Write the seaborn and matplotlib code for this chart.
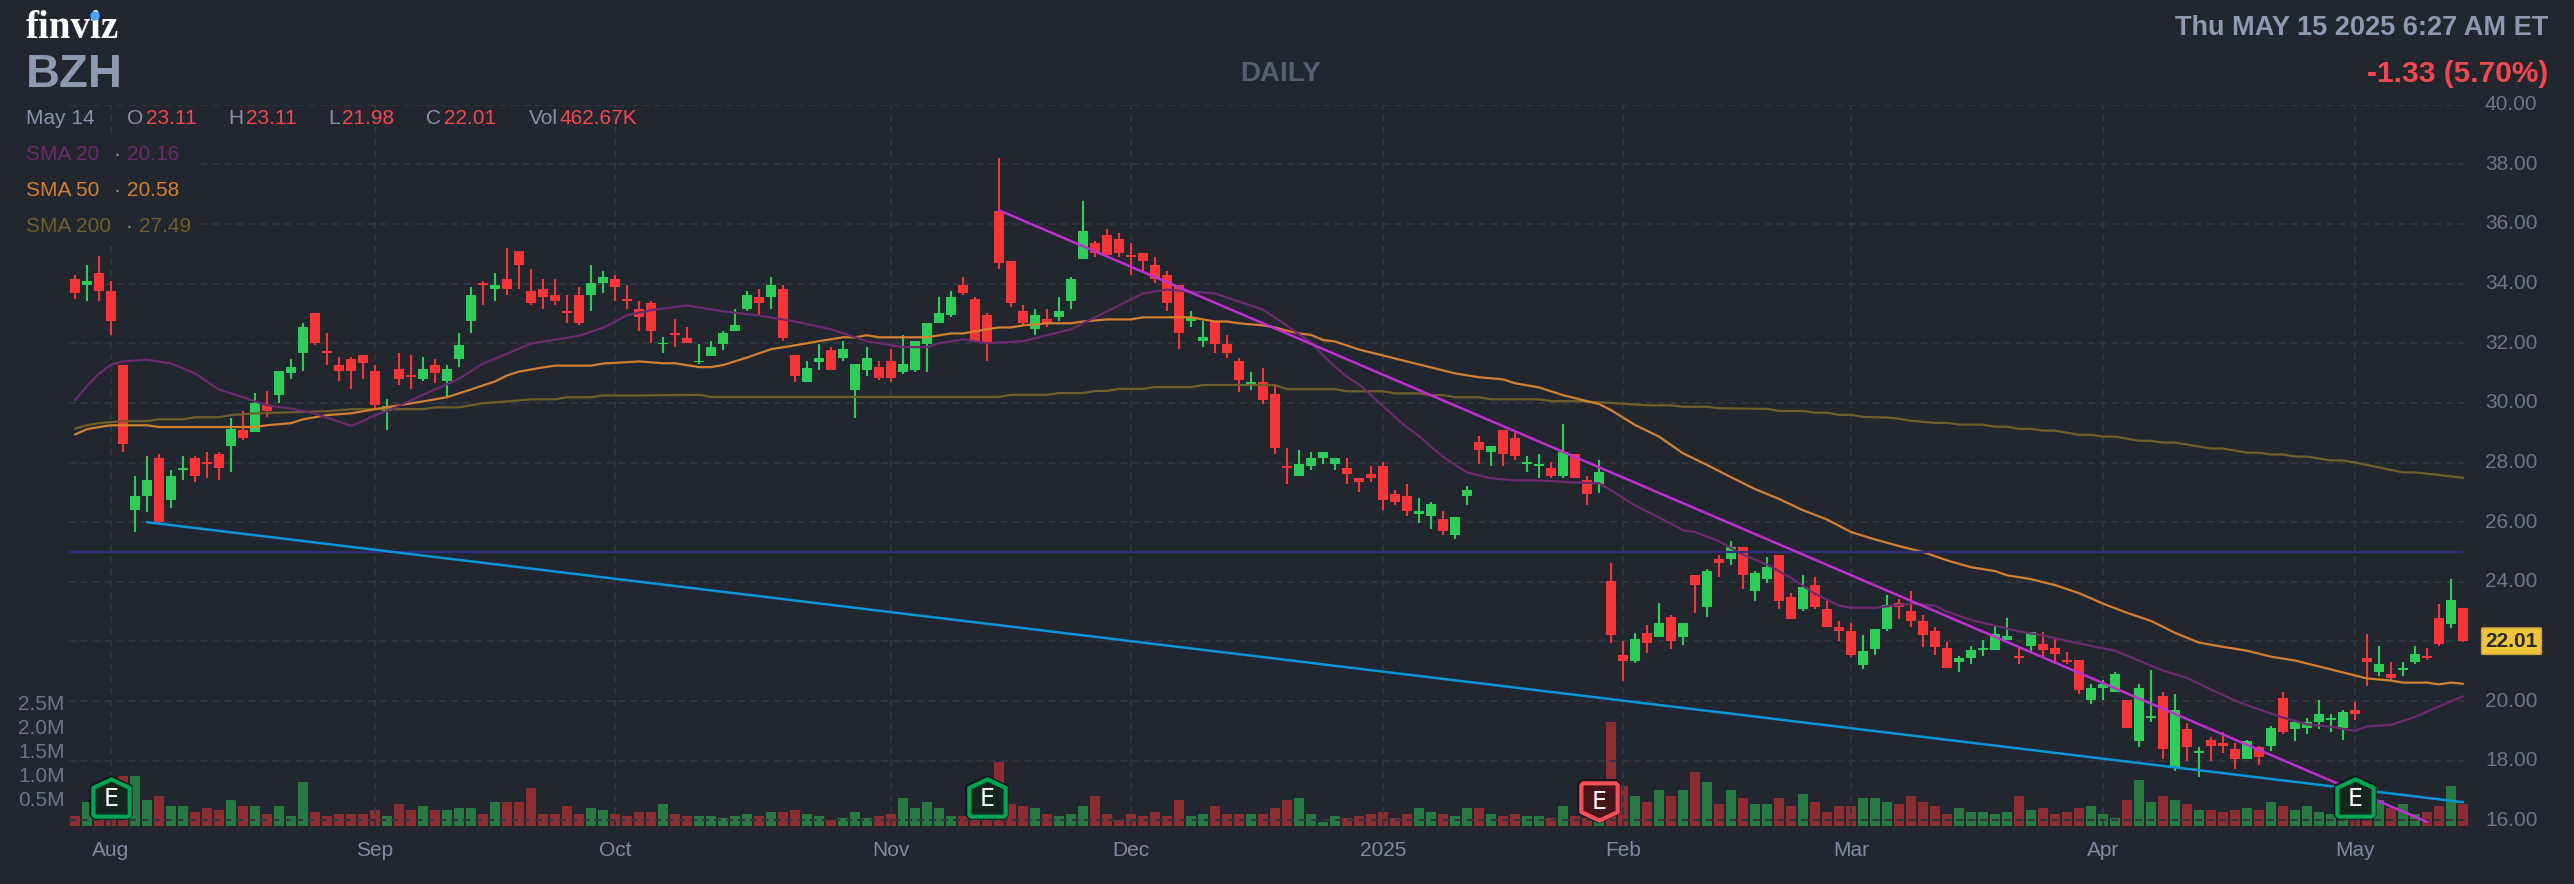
import matplotlib
matplotlib.use("Agg")
import matplotlib.pyplot as plt
import matplotlib.transforms as mtransforms
from matplotlib.patches import Ellipse, Rectangle
from matplotlib.path import Path
import numpy as np
import pandas as pd
import seaborn as sns

# === Candles (trading day index 0 = Jul 29 2024) ===
OPENS = [
    34.14, 33.94, 34.34, 33.74, 31.28, 26.41, 26.88, 28.14, 26.74, 27.74,
    28.14, 28.01, 28.28, 28.54, 29.08, 29.01, 29.94, 30.28, 31.01, 31.68,
    33.01, 31.74, 31.28, 31.48, 31.61, 31.08, 29.74, 31.14, 30.94, 30.81,
    31.28, 30.74, 31.48, 32.74, 34.01, 33.81, 34.14, 35.08, 33.74, 33.81,
    33.61, 33.08, 33.61, 33.61, 34.01, 34.14, 33.48, 33.14, 33.36, 31.96,
    32.36, 32.16, 31.36, 31.56, 31.96, 32.42, 33.16, 33.56, 33.56, 33.82,
    31.62, 30.69, 31.36, 31.76, 31.49, 30.42, 31.09, 31.22, 31.42, 31.02,
    31.09, 31.96, 32.69, 32.96, 33.96, 33.49, 32.96, 36.42, 34.76, 33.09,
    32.49, 32.82, 32.89, 33.42, 34.82, 35.36, 35.62, 35.49, 34.96, 35.02,
    34.62, 34.29, 33.96, 32.76, 32.09, 32.76, 31.96, 31.42, 30.62, 30.69,
    30.29, 27.89, 27.56, 27.89, 28.16, 27.96, 27.82, 27.49, 27.62, 27.89,
    26.96, 26.89, 26.29, 26.22, 26.09, 25.56, 26.89, 28.69, 28.36, 29.09,
    28.82, 27.96, 27.89, 27.82, 27.56, 28.29, 27.42, 27.29, 24.02, 21.56,
    21.36, 22.29, 22.16, 22.82, 22.16, 24.22, 23.16, 24.76, 24.76, 25.16,
    23.69, 24.09, 24.89, 23.49, 23.09, 23.89, 23.09, 22.49, 22.36, 21.22,
    21.76, 22.42, 23.29, 23.02, 22.69, 22.36, 21.78, 21.31, 21.45, 21.71,
    21.71, 22.05, 21.51, 21.85, 21.91, 21.78, 21.38, 21.38, 20.05, 20.45,
    20.31, 20.05, 18.65, 19.45, 20.18, 17.78, 19.05, 18.25, 18.71, 18.58,
    18.38, 18.05, 18.45, 18.51, 20.11, 19.05, 19.11, 19.31, 19.38, 19.11,
    19.71, 21.45, 20.98, 20.91, 21.05, 21.31, 21.51, 22.78, 22.58, 23.11,
]
HIGHS = [
    34.28, 34.61, 34.94, 34.08, 31.28, 27.54, 28.21, 28.28, 27.74, 28.21,
    28.21, 28.34, 28.34, 29.48, 29.74, 30.34, 30.41, 31.08, 31.48, 32.68,
    33.01, 32.34, 31.54, 31.54, 31.61, 31.28, 30.14, 31.68, 31.61, 31.54,
    31.48, 31.28, 32.34, 33.88, 34.08, 34.34, 35.21, 35.08, 34.48, 34.14,
    34.14, 33.61, 33.88, 34.61, 34.41, 34.28, 33.94, 33.41, 33.42, 32.22,
    32.82, 32.56, 31.96, 32.09, 32.42, 33.16, 33.76, 33.82, 34.22, 33.96,
    31.62, 31.42, 31.96, 31.89, 32.09, 31.29, 31.89, 31.42, 31.82, 32.29,
    32.09, 32.69, 33.56, 33.76, 34.22, 33.56, 33.02, 38.22, 34.76, 33.29,
    33.16, 33.16, 33.56, 34.22, 36.76, 35.42, 35.82, 35.69, 35.36, 35.02,
    34.89, 34.42, 33.96, 33.09, 32.76, 32.76, 32.29, 31.49, 31.02, 31.16,
    30.56, 28.49, 28.42, 28.36, 28.36, 28.16, 28.16, 27.49, 27.89, 28.02,
    27.09, 27.29, 26.82, 26.69, 26.36, 26.16, 27.22, 28.89, 28.56, 29.09,
    29.02, 28.22, 28.29, 28.02, 29.29, 28.29, 27.56, 28.09, 24.62, 22.02,
    22.29, 22.56, 23.29, 22.89, 22.62, 24.22, 24.42, 24.89, 25.36, 25.16,
    24.36, 24.82, 24.89, 23.62, 24.22, 24.16, 23.42, 22.69, 22.62, 22.22,
    22.42, 23.56, 23.42, 23.69, 22.89, 22.49, 21.98, 21.51, 21.85, 22.05,
    22.51, 22.78, 21.85, 22.31, 22.31, 22.11, 21.65, 21.38, 20.58, 20.71,
    20.98, 20.05, 20.58, 21.05, 20.31, 20.25, 19.25, 18.45, 18.78, 18.98,
    18.58, 18.71, 18.51, 19.18, 20.31, 19.31, 19.45, 20.05, 19.58, 19.71,
    19.98, 22.25, 21.85, 21.31, 21.31, 21.85, 21.78, 23.25, 24.11, 23.11,
]
LOWS = [
    33.48, 33.41, 33.41, 32.28, 28.34, 25.67, 26.34, 25.98, 26.48, 27.41,
    27.34, 27.48, 27.41, 27.68, 28.74, 29.01, 29.54, 30.01, 30.81, 31.08,
    31.94, 31.28, 30.74, 30.48, 30.81, 29.81, 29.08, 30.61, 30.48, 30.74,
    30.68, 30.21, 31.21, 32.34, 33.28, 33.41, 33.61, 33.81, 33.28, 33.14,
    33.28, 32.68, 32.61, 33.08, 33.68, 33.41, 33.14, 32.41, 32.02, 31.69,
    31.89, 32.02, 31.29, 31.56, 31.76, 32.42, 33.09, 32.96, 33.16, 32.09,
    30.69, 30.69, 31.09, 31.09, 31.42, 29.49, 30.89, 30.76, 30.69, 30.96,
    31.02, 31.02, 32.69, 32.89, 33.62, 32.09, 31.42, 34.49, 33.22, 32.62,
    32.29, 32.56, 32.76, 33.16, 34.82, 34.89, 34.96, 34.89, 34.29, 34.42,
    34.02, 33.09, 31.82, 32.56, 31.89, 31.69, 31.49, 30.36, 30.42, 29.96,
    28.29, 27.29, 27.56, 27.76, 27.96, 27.76, 27.29, 27.02, 27.36, 26.42,
    26.56, 26.22, 25.96, 25.76, 25.56, 25.42, 26.56, 27.96, 27.89, 27.89,
    28.09, 27.69, 27.49, 27.49, 27.49, 27.49, 26.56, 26.99, 21.96, 20.69,
    21.29, 21.62, 22.16, 21.76, 21.89, 22.96, 22.82, 24.16, 24.56, 23.76,
    23.36, 23.96, 23.09, 22.76, 23.02, 23.09, 22.49, 22.02, 21.49, 21.09,
    21.56, 22.36, 22.76, 22.49, 21.82, 21.56, 21.11, 20.98, 21.25, 21.51,
    21.71, 22.05, 21.25, 21.65, 21.45, 21.25, 21.25, 20.25, 19.91, 20.05,
    20.31, 19.11, 18.45, 19.31, 18.05, 17.65, 17.98, 17.45, 17.98, 18.25,
    17.71, 18.05, 17.85, 18.31, 18.91, 18.65, 18.91, 19.05, 18.98, 18.71,
    19.38, 20.51, 20.85, 20.71, 20.85, 21.25, 21.38, 21.85, 22.45, 21.98,
]
CLOSES = [
    33.68, 34.08, 33.74, 32.74, 28.61, 26.88, 27.41, 26.01, 27.54, 27.81,
    27.54, 27.94, 27.81, 29.14, 28.81, 30.01, 29.74, 31.08, 31.21, 32.54,
    32.01, 31.68, 31.08, 31.08, 31.34, 29.94, 29.88, 30.81, 30.88, 31.14,
    31.01, 31.14, 31.94, 33.61, 33.94, 33.94, 33.81, 34.61, 33.34, 33.54,
    33.41, 33.01, 32.68, 34.01, 34.21, 33.88, 33.41, 32.88, 32.42, 32.02,
    32.29, 32.02, 31.42, 31.89, 32.36, 32.62, 33.62, 33.36, 33.96, 32.16,
    30.89, 31.16, 31.49, 31.09, 31.82, 31.29, 31.49, 30.82, 30.82, 31.29,
    32.09, 32.69, 33.02, 33.56, 33.69, 32.09, 32.02, 34.69, 33.36, 32.69,
    32.96, 32.69, 33.09, 34.16, 35.76, 35.02, 34.96, 35.02, 34.89, 34.76,
    34.16, 33.36, 32.36, 32.89, 32.22, 31.96, 31.69, 30.76, 30.69, 30.09,
    28.49, 27.82, 27.96, 28.16, 28.36, 28.16, 27.62, 27.36, 27.49, 26.76,
    26.69, 26.36, 26.36, 26.62, 25.69, 26.16, 27.09, 28.42, 28.56, 28.29,
    28.22, 28.02, 27.96, 27.56, 28.36, 27.49, 26.96, 27.69, 22.22, 21.36,
    22.09, 21.96, 22.62, 22.02, 22.62, 23.89, 24.36, 24.62, 25.16, 24.22,
    24.29, 24.49, 23.36, 22.76, 23.82, 23.16, 22.49, 22.36, 21.56, 21.69,
    22.42, 23.22, 23.16, 22.69, 22.22, 21.82, 21.11, 21.45, 21.71, 21.78,
    22.25, 22.18, 21.45, 22.31, 21.71, 21.58, 21.31, 20.38, 20.45, 20.58,
    20.91, 19.11, 20.45, 19.51, 18.38, 19.71, 18.45, 18.31, 18.51, 18.51,
    18.05, 18.65, 18.11, 19.11, 18.98, 19.31, 19.31, 19.58, 19.45, 19.65,
    19.58, 21.31, 21.25, 20.78, 21.11, 21.58, 21.45, 21.91, 23.38, 22.01,
]
VOLUMES = [
    0.21, 0.50, 0.60, 0.55, 1.04, 1.04, 0.54, 0.625, 0.42, 0.42,
    0.29, 0.375, 0.33, 0.54, 0.42, 0.42, 0.25, 0.42, 0.21, 0.92,
    0.29, 0.21, 0.25, 0.25, 0.25, 0.33, 0.21, 0.46, 0.33, 0.42,
    0.33, 0.33, 0.375, 0.375, 0.25, 0.50, 0.50, 0.50, 0.79, 0.25,
    0.25, 0.42, 0.25, 0.375, 0.33, 0.25, 0.21, 0.29, 0.29, 0.46,
    0.25, 0.21, 0.21, 0.21, 0.17, 0.21, 0.25, 0.21, 0.29, 0.29,
    0.33, 0.25, 0.21, 0.125, 0.17, 0.29, 0.17, 0.21, 0.25, 0.58,
    0.375, 0.50, 0.375, 0.21, 0.21, 0.20, 0.25, 1.33, 0.46, 0.42,
    0.375, 0.25, 0.21, 0.25, 0.42, 0.625, 0.25, 0.125, 0.25, 0.21,
    0.29, 0.21, 0.54, 0.21, 0.25, 0.42, 0.25, 0.25, 0.25, 0.25,
    0.375, 0.54, 0.58, 0.25, 0.08, 0.21, 0.17, 0.21, 0.25, 0.29,
    0.17, 0.25, 0.375, 0.29, 0.25, 0.21, 0.375, 0.375, 0.25, 0.21,
    0.25, 0.21, 0.21, 0.17, 0.42, 0.21, 0.17, 0.20, 2.17, 0.83,
    0.625, 0.50, 0.75, 0.625, 0.75, 1.125, 0.92, 0.46, 0.75, 0.58,
    0.46, 0.46, 0.58, 0.42, 0.67, 0.50, 0.29, 0.42, 0.42, 0.58,
    0.58, 0.50, 0.46, 0.625, 0.50, 0.42, 0.25, 0.375, 0.29, 0.29,
    0.25, 0.29, 0.625, 0.33, 0.375, 0.25, 0.29, 0.375, 0.42, 0.25,
    0.17, 0.54, 0.96, 0.50, 0.625, 0.54, 0.46, 0.33, 0.33, 0.29,
    0.33, 0.375, 0.33, 0.50, 0.42, 0.33, 0.42, 0.29, 0.25, 0.25,
    0.20, 0.25, 0.54, 0.375, 0.46, 0.25, 0.29, 0.42, 0.83, 0.46,
]

# === Moving averages, read at the days listed ===
SMA20_DAYS = [
    0, 1, 2, 3, 4, 6, 8, 10, 12, 14, 16, 18, 20, 22, 23, 24, 25, 26, 28, 30, 32, 34, 36, 38, 40, 42, 44,
    46, 48, 51, 54, 57, 60, 63, 66, 69, 71, 72, 74, 76, 79, 81, 83, 85, 87, 89, 91, 93, 95, 97, 99,
    101, 102, 103, 104, 105, 106, 107, 108, 109, 110, 111, 112, 113, 114, 115, 116, 118, 120, 122,
    125, 127, 128, 130, 132, 134, 135, 137, 139, 141, 143, 145, 147, 148, 150, 153, 155, 156, 158,
    160, 162, 164, 166, 168, 170, 172, 174, 176, 178, 180, 182, 184, 186, 188, 190, 191, 193, 195,
    197, 199,
]
SMA20 = [
    30.09, 30.57, 30.98, 31.28, 31.39, 31.45, 31.32, 30.99, 30.45, 30.19, 29.92, 29.81, 29.64, 29.37,
    29.23, 29.39, 29.59, 29.72, 30.09, 30.45, 30.81, 31.32, 31.65, 31.99, 32.12, 32.25, 32.52,
    32.94, 33.11, 33.27, 33.07, 32.93, 32.73, 32.47, 32.07, 31.87, 31.87, 32.00, 32.13, 32.00, 32.07,
    32.27, 32.47, 32.87, 33.27, 33.67, 33.80, 33.73, 33.67, 33.40, 33.13,
    32.59, 32.30, 32.03, 31.59, 31.22, 30.87, 30.62, 30.26, 29.89, 29.53, 29.18, 28.89, 28.53, 28.20,
    27.92, 27.67, 27.47, 27.40, 27.40, 27.33, 27.31, 27.07, 26.56, 26.16, 25.73, 25.67, 25.36, 24.91,
    24.58, 24.13, 23.60, 23.20, 23.13, 23.13, 23.27, 23.20, 23.00, 22.72, 22.53, 22.34, 22.20, 22.02,
    21.85, 21.69, 21.36, 21.02, 20.78, 20.39, 20.02, 19.72, 19.45, 19.22, 19.14, 19.00, 19.15, 19.20,
    19.47, 19.82, 20.16,
]
SMA50_DAYS = [
    0, 1, 2, 3, 6, 7, 15, 16, 18, 19, 20, 21, 23, 25, 27, 29, 31, 33, 35, 36, 37, 39, 40, 43, 44, 47,
    49, 50, 52, 53, 54, 56, 58, 60, 62, 64, 65, 66, 67, 71, 73, 74, 76, 77, 78, 79, 81, 83, 84, 86, 88,
    89, 93, 95, 96, 97, 99, 100, 101, 102, 103, 104, 105, 107, 109, 111, 113, 115, 117, 119, 120, 122,
    124, 126, 127, 128, 130, 132, 134, 136, 138, 140, 142, 144, 146, 148, 150, 152, 154, 156, 158, 160,
    161, 163, 165, 167, 169, 171, 173, 175, 177, 179, 181, 183, 185, 187, 189, 191, 193, 194, 196, 197,
    198, 199,
]
SMA50 = [
    28.94, 29.12, 29.19, 29.25, 29.25, 29.19, 29.19, 29.25, 29.32, 29.45, 29.52, 29.59, 29.65, 29.79,
    29.92, 30.05, 30.19, 30.45, 30.72, 30.92, 31.05, 31.19, 31.25, 31.25, 31.32, 31.39,
    31.33, 31.33, 31.20, 31.20, 31.27, 31.52, 31.80, 31.93, 32.07, 32.20, 32.20, 32.27, 32.20, 32.20,
    32.33, 32.33, 32.47, 32.53, 32.53, 32.60, 32.67, 32.67, 32.73, 32.80, 32.80, 32.87, 32.87, 32.73,
    32.73, 32.67, 32.60, 32.53, 32.42, 32.33, 32.28, 32.11, 32.06, 31.79, 31.59, 31.39, 31.19, 30.99,
    30.86, 30.79, 30.66, 30.52, 30.26, 30.06, 29.96, 29.76, 29.26, 28.87, 28.31, 27.92, 27.51, 27.11,
    26.78, 26.40, 26.09, 25.67, 25.42, 25.20, 25.00, 24.72, 24.49, 24.36, 24.22, 24.09, 23.89, 23.62,
    23.27, 22.96, 22.69, 22.29, 21.96, 21.82, 21.69, 21.49, 21.36, 21.16, 20.96, 20.76, 20.69, 20.62,
    20.62, 20.56, 20.62, 20.58,
]
SMA200_DAYS = [
    0, 1, 2, 4, 6, 7, 9, 10, 12, 13, 15, 21, 23, 29, 30, 32, 33, 34, 36, 38, 40, 41, 43, 44, 47, 52, 53,
    77, 78, 81, 82, 84, 85, 86, 87, 89, 90, 93, 94, 100, 101, 105, 106, 109, 110, 112, 113, 114, 115,
    117, 118, 122, 123, 125, 128, 131, 133, 134, 136, 137, 141, 142, 144, 145, 146, 147, 148, 149, 151,
    152, 153, 155, 156, 157, 159, 160, 161, 162, 163, 164, 165, 167, 168, 169, 170, 172, 173, 174, 175,
    178, 179, 181, 182, 183, 184, 185, 186, 188, 189, 190, 194, 195, 199,
]
SMA200 = [
    29.14, 29.25, 29.32, 29.39, 29.39, 29.45, 29.45, 29.52, 29.52, 29.59, 29.65, 29.72, 29.79, 29.79,
    29.85, 29.85, 29.92, 29.99, 30.05, 30.12, 30.12, 30.19, 30.19, 30.25, 30.25, 30.27, 30.20,
    30.20, 30.27, 30.27, 30.33, 30.33, 30.40, 30.40, 30.47, 30.47, 30.53, 30.53, 30.60, 30.60, 30.46,
    30.46, 30.39, 30.39, 30.32, 30.32, 30.26, 30.26, 30.19, 30.19, 30.12, 30.12, 30.06, 30.06, 30.00,
    29.92, 29.92, 29.87, 29.87, 29.82, 29.80, 29.73, 29.73, 29.67, 29.67, 29.60, 29.60, 29.53, 29.51,
    29.47, 29.40, 29.33, 29.33, 29.27, 29.27, 29.20, 29.20, 29.13, 29.13, 29.07, 29.07, 28.93, 28.93,
    28.87, 28.87, 28.73, 28.73, 28.67, 28.67, 28.47, 28.47, 28.33, 28.33, 28.27, 28.27, 28.20, 28.20,
    28.07, 28.07, 28.00, 27.67, 27.67, 27.49,
]

# === Drawn lines, start and end ===
PURPLE_DAYS = [77, 196]
PURPLE_PRICES = [36.46, 15.95]
BLUE_DAYS = [6, 199]
BLUE_PRICES = [26.00, 16.61]
NAVY_DAYS = [-0.5, 199]
NAVY_PRICES = [25.0, 25.0]

# === Axes labels ===
PRICE_TICKS = list(range(16, 41, 2))
VOLUME_TICKS = [0.5, 1.0, 1.5, 2.0, 2.5]
VOLUME_LABELS = ["0.5M", "1.0M", "1.5M", "2.0M", "2.5M"]
MONTH_DAYS = [3, 25, 45, 68, 88, 109, 129, 148, 169, 190]
MONTH_LABELS = ["Aug", "Sep", "Oct", "Nov", "Dec", "2025", "Feb", "Mar", "Apr", "May"]

# === Earnings badges ===
EARNING_DAYS = [3, 76, 127, 190]
EARNING_BEATS = [True, True, False, True]

LAST_CLOSE = 22.01

BG = "#22262f"
GRID = "#30353f"
UP = "#30cc5a"
DOWN = "#f63538"
TEXT_RED = "#f5474f"
TEXT_GREY = "#8a92a8"
AXIS_GREY = "#6f7688"

W, H = 2574, 884
LEFT, RIGHT, TOP, BOTTOM = 69, 2469, 104.7, 826


def fx(px):
    return px / W


def fy(py):
    return 1 - py / H


sns.set_theme(style="dark", rc={"axes.facecolor": BG, "figure.facecolor": BG, "lines.scale_dashes": False})
plt.rcParams["font.family"] = ["Liberation Sans", "DejaVu Sans"]

fig = plt.figure(figsize=(W / 100, H / 100), dpi=100)
ax = fig.add_axes([fx(LEFT), 1 - BOTTOM / H, (RIGHT - LEFT) / W, (BOTTOM - TOP) / H])
ax_vol = ax.twinx()
ax.set_zorder(2)
ax_vol.set_zorder(1)
ax.patch.set_visible(False)

days = np.arange(len(CLOSES))
opens = np.array(OPENS)
closes = np.array(CLOSES)
rising = closes >= opens
colors = np.where(rising, UP, DOWN)

# === Volume ===
vol = pd.DataFrame({"day": days, "volume": VOLUMES, "side": np.where(rising, "up", "down")})
sns.barplot(data=vol, x="day", y="volume", hue="side", palette={"up": UP, "down": DOWN},
            native_scale=True, dodge=False, width=0.83, saturation=1, alpha=0.5,
            linewidth=0, edgecolor="none", legend=False, ax=ax_vol)

# === Candles ===
ax.vlines(days, LOWS, HIGHS, colors=colors, linewidth=1.5, zorder=3)
ax.bar(days, np.abs(closes - opens), bottom=np.minimum(opens, closes), width=0.83,
       color=colors, linewidth=0, zorder=3)

# === Moving averages and drawn lines ===
sns.lineplot(x=SMA200_DAYS, y=SMA200, color="#6e5e2c", linewidth=1.6, ax=ax, zorder=4)
sns.lineplot(x=SMA50_DAYS, y=SMA50, color="#d67f2f", linewidth=1.6, ax=ax, zorder=4)
sns.lineplot(x=SMA20_DAYS, y=SMA20, color="#6c2a6f", linewidth=1.6, ax=ax, zorder=4)
sns.lineplot(x=NAVY_DAYS, y=NAVY_PRICES, color="#2f2d80", linewidth=1.6, ax=ax, zorder=4)
sns.lineplot(x=BLUE_DAYS, y=BLUE_PRICES, color="#0a96d8", linewidth=1.8, ax=ax, zorder=4)
sns.lineplot(x=PURPLE_DAYS, y=PURPLE_PRICES, color="#c030d0", linewidth=1.8, ax=ax, zorder=4)

# === Scales ===
ax.set_xlim(-0.5, len(CLOSES) - 0.5)
ax.set_ylim(40 - (BOTTOM - TOP) / 29.82, 40)
ax_vol.set_xlim(-0.5, len(CLOSES) - 0.5)
ax_vol.set_ylim(0, (BOTTOM - TOP) / 48)

ax.set_xticks(MONTH_DAYS, MONTH_LABELS)
ax.set_yticks(PRICE_TICKS, [f"{t:.2f}" for t in PRICE_TICKS])
ax.yaxis.tick_right()
ax.tick_params(axis="y", length=0, pad=11.5, labelsize=15, labelcolor=AXIS_GREY)
ax.tick_params(axis="x", length=0, pad=11, labelsize=15, labelcolor="#828aa0")
ax.grid(True, color=GRID, linewidth=1.5, linestyle=(0, (5, 3.6)), zorder=1)
ax.set_axisbelow(True)
ax.set_xlabel("")
ax.set_ylabel("")
up_one = mtransforms.ScaledTranslation(0, 2 / 100, fig.dpi_scale_trans)
for label in ax.get_yticklabels():
    label.set_transform(label.get_transform() + up_one)

ax_vol.set_yticks(VOLUME_TICKS, VOLUME_LABELS)
ax_vol.yaxis.tick_left()
ax_vol.tick_params(axis="y", length=0, pad=3, labelsize=15, labelcolor=AXIS_GREY)
ax_vol.set_xlabel("")
ax_vol.set_ylabel("")
ax_vol.grid(False)
up_shift = mtransforms.ScaledTranslation(0, 4 / 100, fig.dpi_scale_trans)
for label in ax_vol.get_yticklabels():
    label.set_transform(label.get_transform() + up_shift)

for a in (ax, ax_vol):
    for spine in a.spines.values():
        spine.set_visible(False)

# === Earnings badges, in price units so they follow the day scale ===
badge_up = Path([(-0.86, -0.95), (-0.95, -0.85), (-0.95, 0.55), (0, 1.0), (0.95, 0.55), (0.95, -0.85),
                 (0.86, -0.95), (-0.86, -0.95)], closed=True)
badge_down = Path([(-0.86, 0.95), (-0.95, 0.85), (-0.95, -0.55), (0, -1.0), (0.95, -0.55), (0.95, 0.85),
                   (0.86, 0.95), (-0.86, 0.95)], closed=True)
for day, beat in zip(EARNING_DAYS, EARNING_BEATS):
    marker = badge_up if beat else badge_down
    edge = "#00a651" if beat else "#f74f58"
    face = "#14261e" if beat else "#45151a"
    y = 16.75 if beat else 16.66
    ax.scatter([day], [y], marker=marker, s=760, facecolor="none", edgecolor="#12151b",
               linewidth=5, zorder=6, clip_on=False)
    ax.scatter([day], [y], marker=marker, s=760, facecolor=face, edgecolor=edge,
               linewidth=3, zorder=7, clip_on=False)
    ax.text(day, y - 0.03, "E", color="white", fontsize=17, ha="center", va="center",
            family=["DejaVu Sans"], zorder=8)

# === Last price tag ===
ax.text(1.0068, LAST_CLOSE, f"{LAST_CLOSE:.2f}", transform=ax.get_yaxis_transform(),
        fontsize=15, fontweight="bold", color="#2a2a24", ha="left", va="center", zorder=9, clip_on=False,
        bbox=dict(boxstyle="round,pad=0.18,rounding_size=0.06", facecolor="#f0c53c", edgecolor="#c9a538"))

# === Header, pushes the grid away behind the legend rows ===
fig.add_artist(Rectangle((fx(0), fy(240)), fx(198), (240 - 135) / H, transform=fig.transFigure,
                         facecolor=BG, edgecolor="none", zorder=5))

def header(px, py, s, color, size=15, weight="normal", ha="left", family=None):
    fig.text(fx(px), fy(py), s, color=color, fontsize=size, fontweight=weight, ha=ha, va="center",
             zorder=10, family=family or ["Liberation Sans"])


header(26, 28, "finviz", "white", size=28, weight="bold", family=["Liberation Serif"])
fig.add_artist(Ellipse((fx(95), fy(16)), 8 / W, 8 / H, transform=fig.transFigure, color="#4aa3ff", zorder=11))
header(26, 75, "BZH", "#8f99b3", size=34, weight="bold")
header(1281, 74, "DAILY", "#565e70", size=20, weight="bold", ha="center")
header(2548, 28, "Thu MAY 15 2025 6:27 AM ET", "#8f99b3", size=19.5, weight="bold", ha="right")
header(2548, 74, "-1.33 (5.70%)", TEXT_RED, size=21.5, weight="bold", ha="right")

header(26, 118, "May 14", TEXT_GREY)
for lx, letter, vx, value in [(126.5, "O", 146, "23.11"), (228, "H", 246, "23.11"), (328.6, "L", 342, "21.98"),
                              (426.5, "C", 444, "22.01"), (528.6, "Vol", 560, "462.67K")]:
    header(lx, 118, letter, TEXT_GREY)
    header(vx, 118, value, TEXT_RED)

for py, name, dot_x, val_x, value, color in [(154, "SMA 20", 113, 126.5, "20.16", "#6c2a6f"),
                                             (190, "SMA 50", 113, 126.5, "20.58", "#d67f2f"),
                                             (226, "SMA 200", 125, 139, "27.49", "#6e5e2c")]:
    header(26, py, name, color)
    header(dot_x, py, "·", "#8a92a8")
    header(val_x, py, value, color)

plt.savefig("out.png", dpi=100, facecolor=BG)
